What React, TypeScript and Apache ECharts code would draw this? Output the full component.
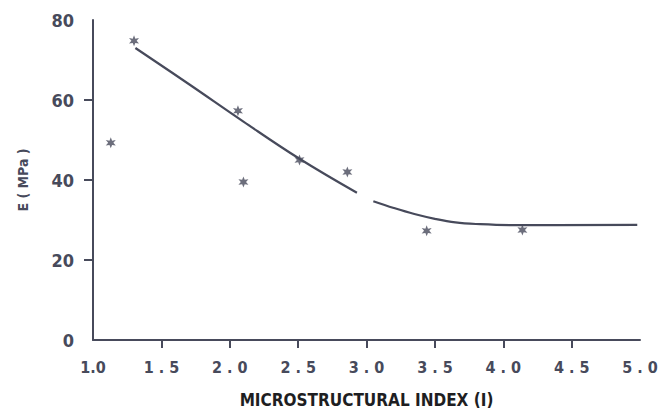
import React, { useEffect, useRef } from "react";
import * as echarts from "echarts";

// Measured data points (asterisks)
const pointX = [1.13, 1.3, 2.06, 2.1, 2.51, 2.86, 3.44, 4.14];
const pointY = [49.3, 74.8, 57.3, 39.5, 45.0, 42.0, 27.3, 27.5];

// Fitted curve (the scan shows a small break near x = 3.0)
const curveX = [1.31, 1.7, 2.1, 2.51, 2.93, 3.0, 3.05, 3.2, 3.35, 3.5, 3.65, 3.8, 4.1, 4.98];
const curveY: (number | string)[] = [73, 64, 54.6, 45.3, 36.8, "-", 34.7, 33.0, 31.5, 30.3, 29.4, 29.0, 28.7, 28.8];

// Axis ticks and labels
const xTickValues = [1.5, 2.0, 2.5, 3.0, 3.5, 4.0, 4.5];
const xLabelValues = [1.0, 1.5, 2.0, 2.5, 3.0, 3.5, 4.0, 4.5, 5.0];
const xLabelTexts = ["1.0", "1 . 5", "2 . 0", "2 . 5", "3 . 0", "3 . 5", "4 . 0", "4 . 5", "5 . 0"];
const yTickValues = [20, 40, 60];
const yLabelValues = [0, 20, 40, 60, 80];

const xTitle = "MICROSTRUCTURAL INDEX (I)";
const yTitle = "E ( MPa )";

const INK = "#474a5b";
const FONT = "'DejaVu Sans Condensed', 'DejaVu Sans', sans-serif";

const STAR =
  "path://M10 0 L12.25 6.1 L18.66 5 L14.5 10 L18.66 15 L12.25 13.9 L10 20 L7.75 13.9 L1.34 15 L5.5 10 L1.34 5 L7.75 6.1 Z";

export default function App() {
  const ref = useRef<HTMLDivElement>(null);

  useEffect(() => {
    if (!ref.current) return;
    const chart = echarts.init(ref.current, undefined, { renderer: "svg" });
    chart.setOption({
      animation: false,
      backgroundColor: "#ffffff",
      grid: {
        left: 93,
        right: 19,
        top: 20,
        bottom: 69,
        containLabel: false,
        outerBoundsMode: "none",
      },
      xAxis: {
        type: "value",
        min: 1.0,
        max: 5.0,
        interval: 0.5,
        splitLine: { show: false },
        axisLine: { show: true, onZero: false, lineStyle: { color: INK, width: 2 } },
        axisTick: {
          show: true,
          customValues: xTickValues,
          length: 8,
          lineStyle: { color: INK, width: 2 },
        },
        axisLabel: {
          customValues: xLabelValues,
          margin: 19,
          color: INK,
          fontFamily: FONT,
          fontWeight: "bold",
          fontSize: 16,
          formatter: (v: number) => {
            const i = xLabelValues.findIndex((x) => Math.abs(x - v) < 1e-6);
            return i >= 0 ? xLabelTexts[i] : "";
          },
        },
        name: xTitle,
        nameLocation: "middle",
        nameGap: 51,
        nameTextStyle: {
          color: "#1e1e22",
          fontFamily: FONT,
          fontWeight: "bold",
          fontSize: 17,
        },
      },
      yAxis: {
        type: "value",
        min: 0,
        max: 80,
        interval: 20,
        splitLine: { show: false },
        axisLine: { show: true, onZero: false, lineStyle: { color: INK, width: 2 } },
        axisTick: {
          show: true,
          customValues: yTickValues,
          length: 9,
          lineStyle: { color: INK, width: 2 },
        },
        axisLabel: {
          customValues: yLabelValues,
          margin: 19,
          color: INK,
          fontFamily: FONT,
          fontWeight: "bold",
          fontSize: 18,
        },
        name: yTitle,
        nameLocation: "middle",
        nameGap: 63,
        nameRotate: 90,
        nameTextStyle: {
          color: INK,
          fontFamily: FONT,
          fontWeight: "bold",
          fontSize: 14,
        },
      },
      series: [
        {
          type: "line",
          data: curveX.map((x, i) => [x, curveY[i]]),
          smooth: 0.4,
          connectNulls: false,
          showSymbol: false,
          symbol: "none",
          lineStyle: { color: INK, width: 2.2 },
          z: 2,
        },
        {
          type: "scatter",
          data: pointX.map((x, i) => [x, pointY[i]]),
          symbol: STAR,
          symbolSize: [10, 11],
          itemStyle: { color: INK },
          z: 3,
        },
      ],
    });
    return () => chart.dispose();
  }, []);

  return (
    <div
      ref={ref}
      style={{ position: "absolute", left: 0, top: 0, width: 659, height: 409 }}
    />
  );
}
